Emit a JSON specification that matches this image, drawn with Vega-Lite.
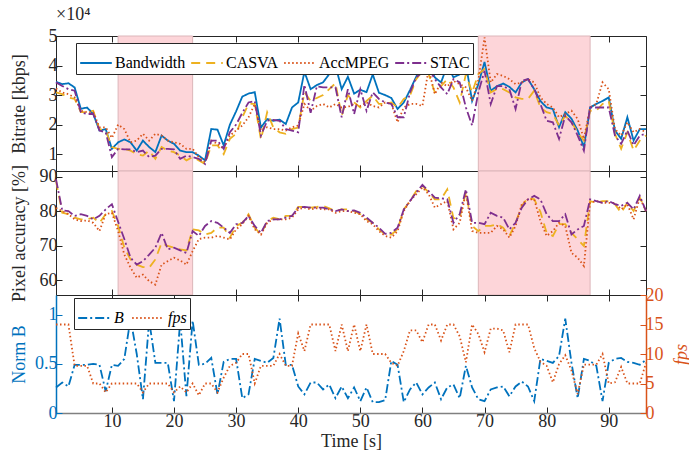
{
"$schema":"https://vega.github.io/schema/vega-lite/v6.json",
"background":"white",
"padding":{"left":9,"top":6,"right":5,"bottom":5},
"spacing":0,
"bounds":"flush",
"config":{
 "font":"Liberation Serif",
 "view":{"stroke":null},
 "axis":{"labelFont":"Liberation Serif","titleFont":"Liberation Serif","labelFontSize":18,"titleFontSize":18,"titleFontWeight":"normal","labelColor":"#262626","titleColor":"#262626","domainColor":"#262626","tickColor":"#262626","tickSize":-6,"labelPadding":5,"grid":false,"domainWidth":1,"tickWidth":1},
 "legend":{"labelFont":"Liberation Serif","labelFontSize":16,"labelColor":"#000000"}
},
"datasets":{
"zones":[{"start":11,"end":23},{"start":69,"end":87}],
"bitrate":[
{"t":1,"s":"Bandwidth","v":34500},{"t":2,"s":"Bandwidth","v":33700},{"t":3,"s":"Bandwidth","v":34000},{"t":4,"s":"Bandwidth","v":32600},{"t":5,"s":"Bandwidth","v":25300},{"t":6,"s":"Bandwidth","v":25800},{"t":7,"s":"Bandwidth","v":23600},{"t":8,"s":"Bandwidth","v":18000},{"t":9,"s":"Bandwidth","v":18500},{"t":10,"s":"Bandwidth","v":11800},
{"t":11,"s":"Bandwidth","v":14000},{"t":12,"s":"Bandwidth","v":15000},{"t":13,"s":"Bandwidth","v":14000},{"t":14,"s":"Bandwidth","v":11200},{"t":15,"s":"Bandwidth","v":14600},{"t":16,"s":"Bandwidth","v":12400},{"t":17,"s":"Bandwidth","v":10700},{"t":18,"s":"Bandwidth","v":16300},{"t":19,"s":"Bandwidth","v":14600},{"t":20,"s":"Bandwidth","v":13500},
{"t":21,"s":"Bandwidth","v":11200},{"t":22,"s":"Bandwidth","v":10700},{"t":23,"s":"Bandwidth","v":10700},{"t":24,"s":"Bandwidth","v":9500},{"t":25,"s":"Bandwidth","v":7900},{"t":26,"s":"Bandwidth","v":18500},{"t":27,"s":"Bandwidth","v":18300},{"t":28,"s":"Bandwidth","v":13000},{"t":29,"s":"Bandwidth","v":20000},{"t":30,"s":"Bandwidth","v":24500},
{"t":31,"s":"Bandwidth","v":29500},{"t":32,"s":"Bandwidth","v":30500},{"t":33,"s":"Bandwidth","v":31000},{"t":34,"s":"Bandwidth","v":19000},{"t":35,"s":"Bandwidth","v":21900},{"t":36,"s":"Bandwidth","v":21300},{"t":37,"s":"Bandwidth","v":21700},{"t":38,"s":"Bandwidth","v":20200},{"t":39,"s":"Bandwidth","v":25800},{"t":40,"s":"Bandwidth","v":27500},
{"t":41,"s":"Bandwidth","v":37900},{"t":42,"s":"Bandwidth","v":32000},{"t":43,"s":"Bandwidth","v":33400},{"t":44,"s":"Bandwidth","v":34300},{"t":45,"s":"Bandwidth","v":37100},{"t":46,"s":"Bandwidth","v":40000},{"t":47,"s":"Bandwidth","v":32000},{"t":48,"s":"Bandwidth","v":36200},{"t":49,"s":"Bandwidth","v":30500},{"t":50,"s":"Bandwidth","v":31800},
{"t":51,"s":"Bandwidth","v":31000},{"t":52,"s":"Bandwidth","v":37000},{"t":53,"s":"Bandwidth","v":30800},{"t":54,"s":"Bandwidth","v":30000},{"t":55,"s":"Bandwidth","v":29000},{"t":56,"s":"Bandwidth","v":25300},{"t":57,"s":"Bandwidth","v":27500},{"t":58,"s":"Bandwidth","v":31700},{"t":59,"s":"Bandwidth","v":36200},{"t":60,"s":"Bandwidth","v":40500},
{"t":61,"s":"Bandwidth","v":40500},{"t":62,"s":"Bandwidth","v":36000},{"t":63,"s":"Bandwidth","v":34300},{"t":64,"s":"Bandwidth","v":40000},{"t":65,"s":"Bandwidth","v":36000},{"t":66,"s":"Bandwidth","v":37000},{"t":67,"s":"Bandwidth","v":40500},{"t":68,"s":"Bandwidth","v":28000},{"t":69,"s":"Bandwidth","v":33700},{"t":70,"s":"Bandwidth","v":41200},
{"t":71,"s":"Bandwidth","v":31500},{"t":72,"s":"Bandwidth","v":33000},{"t":73,"s":"Bandwidth","v":33900},{"t":74,"s":"Bandwidth","v":32800},{"t":75,"s":"Bandwidth","v":30900},{"t":76,"s":"Bandwidth","v":34300},{"t":77,"s":"Bandwidth","v":35400},{"t":78,"s":"Bandwidth","v":32000},{"t":79,"s":"Bandwidth","v":28000},{"t":80,"s":"Bandwidth","v":25800},
{"t":81,"s":"Bandwidth","v":25300},{"t":82,"s":"Bandwidth","v":19100},{"t":83,"s":"Bandwidth","v":24200},{"t":84,"s":"Bandwidth","v":22000},{"t":85,"s":"Bandwidth","v":18000},{"t":86,"s":"Bandwidth","v":12400},{"t":87,"s":"Bandwidth","v":25800},{"t":88,"s":"Bandwidth","v":27000},{"t":89,"s":"Bandwidth","v":28000},{"t":90,"s":"Bandwidth","v":29200},
{"t":91,"s":"Bandwidth","v":18000},{"t":92,"s":"Bandwidth","v":15200},{"t":93,"s":"Bandwidth","v":22500},{"t":94,"s":"Bandwidth","v":14600},{"t":95,"s":"Bandwidth","v":18500},{"t":96,"s":"Bandwidth","v":18500},
{"t":1,"s":"CASVA","v":30900},{"t":2,"s":"CASVA","v":30300},{"t":3,"s":"CASVA","v":29200},{"t":4,"s":"CASVA","v":28700},{"t":5,"s":"CASVA","v":24200},{"t":6,"s":"CASVA","v":24200},{"t":7,"s":"CASVA","v":24700},{"t":8,"s":"CASVA","v":18500},{"t":9,"s":"CASVA","v":18000},{"t":10,"s":"CASVA","v":12400},
{"t":11,"s":"CASVA","v":11800},{"t":12,"s":"CASVA","v":11800},{"t":13,"s":"CASVA","v":11200},{"t":14,"s":"CASVA","v":10000},{"t":15,"s":"CASVA","v":9500},{"t":16,"s":"CASVA","v":11200},{"t":17,"s":"CASVA","v":8400},{"t":18,"s":"CASVA","v":12400},{"t":19,"s":"CASVA","v":11200},{"t":20,"s":"CASVA","v":10700},
{"t":21,"s":"CASVA","v":9500},{"t":22,"s":"CASVA","v":7900},{"t":23,"s":"CASVA","v":9000},{"t":24,"s":"CASVA","v":7900},{"t":25,"s":"CASVA","v":6700},{"t":26,"s":"CASVA","v":13000},{"t":27,"s":"CASVA","v":13000},{"t":28,"s":"CASVA","v":10000},{"t":29,"s":"CASVA","v":15200},{"t":30,"s":"CASVA","v":16900},
{"t":31,"s":"CASVA","v":22500},{"t":32,"s":"CASVA","v":27000},{"t":33,"s":"CASVA","v":27000},{"t":34,"s":"CASVA","v":15000},{"t":35,"s":"CASVA","v":24200},{"t":36,"s":"CASVA","v":19000},{"t":37,"s":"CASVA","v":17400},{"t":38,"s":"CASVA","v":16900},{"t":39,"s":"CASVA","v":18500},{"t":40,"s":"CASVA","v":19000},
{"t":41,"s":"CASVA","v":31000},{"t":42,"s":"CASVA","v":28000},{"t":43,"s":"CASVA","v":29000},{"t":44,"s":"CASVA","v":30000},{"t":45,"s":"CASVA","v":32000},{"t":46,"s":"CASVA","v":34000},{"t":47,"s":"CASVA","v":23000},{"t":48,"s":"CASVA","v":30000},{"t":49,"s":"CASVA","v":27500},{"t":50,"s":"CASVA","v":25800},
{"t":51,"s":"CASVA","v":28000},{"t":52,"s":"CASVA","v":29800},{"t":53,"s":"CASVA","v":27000},{"t":54,"s":"CASVA","v":27000},{"t":55,"s":"CASVA","v":27500},{"t":56,"s":"CASVA","v":25800},{"t":57,"s":"CASVA","v":28700},{"t":58,"s":"CASVA","v":29800},{"t":59,"s":"CASVA","v":35400},{"t":60,"s":"CASVA","v":38200},
{"t":61,"s":"CASVA","v":37100},{"t":62,"s":"CASVA","v":30900},{"t":63,"s":"CASVA","v":33000},{"t":64,"s":"CASVA","v":35400},{"t":65,"s":"CASVA","v":32600},{"t":66,"s":"CASVA","v":27500},{"t":67,"s":"CASVA","v":37100},{"t":68,"s":"CASVA","v":30900},{"t":69,"s":"CASVA","v":37100},{"t":70,"s":"CASVA","v":38800},
{"t":71,"s":"CASVA","v":30900},{"t":72,"s":"CASVA","v":32000},{"t":73,"s":"CASVA","v":32000},{"t":74,"s":"CASVA","v":30900},{"t":75,"s":"CASVA","v":29200},{"t":76,"s":"CASVA","v":28700},{"t":77,"s":"CASVA","v":28700},{"t":78,"s":"CASVA","v":31500},{"t":79,"s":"CASVA","v":25800},{"t":80,"s":"CASVA","v":24200},
{"t":81,"s":"CASVA","v":23600},{"t":82,"s":"CASVA","v":19700},{"t":83,"s":"CASVA","v":23000},{"t":84,"s":"CASVA","v":20800},{"t":85,"s":"CASVA","v":17400},{"t":86,"s":"CASVA","v":14600},{"t":87,"s":"CASVA","v":24700},{"t":88,"s":"CASVA","v":24700},{"t":89,"s":"CASVA","v":27000},{"t":90,"s":"CASVA","v":28000},
{"t":91,"s":"CASVA","v":16900},{"t":92,"s":"CASVA","v":11800},{"t":93,"s":"CASVA","v":17400},{"t":94,"s":"CASVA","v":11200},{"t":95,"s":"CASVA","v":14600},{"t":96,"s":"CASVA","v":16300},
{"t":1,"s":"AccMPEG","v":32200},{"t":2,"s":"AccMPEG","v":30900},{"t":3,"s":"AccMPEG","v":30300},{"t":4,"s":"AccMPEG","v":29200},{"t":5,"s":"AccMPEG","v":24700},{"t":6,"s":"AccMPEG","v":24200},{"t":7,"s":"AccMPEG","v":24200},{"t":8,"s":"AccMPEG","v":19100},{"t":9,"s":"AccMPEG","v":19100},{"t":10,"s":"AccMPEG","v":15500},
{"t":11,"s":"AccMPEG","v":20000},{"t":12,"s":"AccMPEG","v":18500},{"t":13,"s":"AccMPEG","v":14000},{"t":14,"s":"AccMPEG","v":14600},{"t":15,"s":"AccMPEG","v":16900},{"t":16,"s":"AccMPEG","v":14600},{"t":17,"s":"AccMPEG","v":16900},{"t":18,"s":"AccMPEG","v":16300},{"t":19,"s":"AccMPEG","v":14600},{"t":20,"s":"AccMPEG","v":14000},
{"t":21,"s":"AccMPEG","v":13500},{"t":22,"s":"AccMPEG","v":11800},{"t":23,"s":"AccMPEG","v":11800},{"t":24,"s":"AccMPEG","v":9000},{"t":25,"s":"AccMPEG","v":7300},{"t":26,"s":"AccMPEG","v":14600},{"t":27,"s":"AccMPEG","v":13500},{"t":28,"s":"AccMPEG","v":11800},{"t":29,"s":"AccMPEG","v":16300},{"t":30,"s":"AccMPEG","v":18000},
{"t":31,"s":"AccMPEG","v":19700},{"t":32,"s":"AccMPEG","v":22500},{"t":33,"s":"AccMPEG","v":27000},{"t":34,"s":"AccMPEG","v":18000},{"t":35,"s":"AccMPEG","v":19100},{"t":36,"s":"AccMPEG","v":18500},{"t":37,"s":"AccMPEG","v":18500},{"t":38,"s":"AccMPEG","v":18000},{"t":39,"s":"AccMPEG","v":19100},{"t":40,"s":"AccMPEG","v":19700},
{"t":41,"s":"AccMPEG","v":27000},{"t":42,"s":"AccMPEG","v":24700},{"t":43,"s":"AccMPEG","v":26300},{"t":44,"s":"AccMPEG","v":27000},{"t":45,"s":"AccMPEG","v":25800},{"t":46,"s":"AccMPEG","v":27000},{"t":47,"s":"AccMPEG","v":25800},{"t":48,"s":"AccMPEG","v":26000},{"t":49,"s":"AccMPEG","v":27000},{"t":50,"s":"AccMPEG","v":26300},
{"t":51,"s":"AccMPEG","v":27500},{"t":52,"s":"AccMPEG","v":26300},{"t":53,"s":"AccMPEG","v":25800},{"t":54,"s":"AccMPEG","v":27500},{"t":55,"s":"AccMPEG","v":27000},{"t":56,"s":"AccMPEG","v":20800},{"t":57,"s":"AccMPEG","v":25800},{"t":58,"s":"AccMPEG","v":27000},{"t":59,"s":"AccMPEG","v":27000},{"t":60,"s":"AccMPEG","v":26300},
{"t":61,"s":"AccMPEG","v":38800},{"t":62,"s":"AccMPEG","v":30300},{"t":63,"s":"AccMPEG","v":34300},{"t":64,"s":"AccMPEG","v":33000},{"t":65,"s":"AccMPEG","v":34800},{"t":66,"s":"AccMPEG","v":33700},{"t":67,"s":"AccMPEG","v":32600},{"t":68,"s":"AccMPEG","v":28100},{"t":69,"s":"AccMPEG","v":35000},{"t":70,"s":"AccMPEG","v":49500},
{"t":71,"s":"AccMPEG","v":34300},{"t":72,"s":"AccMPEG","v":37100},{"t":73,"s":"AccMPEG","v":36500},{"t":74,"s":"AccMPEG","v":35400},{"t":75,"s":"AccMPEG","v":33700},{"t":76,"s":"AccMPEG","v":34300},{"t":77,"s":"AccMPEG","v":35400},{"t":78,"s":"AccMPEG","v":34300},{"t":79,"s":"AccMPEG","v":29200},{"t":80,"s":"AccMPEG","v":27000},
{"t":81,"s":"AccMPEG","v":25800},{"t":82,"s":"AccMPEG","v":22500},{"t":83,"s":"AccMPEG","v":23600},{"t":84,"s":"AccMPEG","v":24700},{"t":85,"s":"AccMPEG","v":21900},{"t":86,"s":"AccMPEG","v":15200},{"t":87,"s":"AccMPEG","v":25800},{"t":88,"s":"AccMPEG","v":27000},{"t":89,"s":"AccMPEG","v":34300},{"t":90,"s":"AccMPEG","v":32000},
{"t":91,"s":"AccMPEG","v":18500},{"t":92,"s":"AccMPEG","v":16300},{"t":93,"s":"AccMPEG","v":20800},{"t":94,"s":"AccMPEG","v":17400},{"t":95,"s":"AccMPEG","v":18500},{"t":96,"s":"AccMPEG","v":17400},
{"t":1,"s":"STAC","v":34300},{"t":2,"s":"STAC","v":33100},{"t":3,"s":"STAC","v":32000},{"t":4,"s":"STAC","v":31500},{"t":5,"s":"STAC","v":24200},{"t":6,"s":"STAC","v":23600},{"t":7,"s":"STAC","v":23600},{"t":8,"s":"STAC","v":18000},{"t":9,"s":"STAC","v":17400},{"t":10,"s":"STAC","v":9000},
{"t":11,"s":"STAC","v":11800},{"t":12,"s":"STAC","v":11600},{"t":13,"s":"STAC","v":11600},{"t":14,"s":"STAC","v":10700},{"t":15,"s":"STAC","v":11200},{"t":16,"s":"STAC","v":9000},{"t":17,"s":"STAC","v":9500},{"t":18,"s":"STAC","v":11800},{"t":19,"s":"STAC","v":11800},{"t":20,"s":"STAC","v":11600},
{"t":21,"s":"STAC","v":8400},{"t":22,"s":"STAC","v":9500},{"t":23,"s":"STAC","v":9000},{"t":24,"s":"STAC","v":8400},{"t":25,"s":"STAC","v":6700},{"t":26,"s":"STAC","v":14600},{"t":27,"s":"STAC","v":14600},{"t":28,"s":"STAC","v":11800},{"t":29,"s":"STAC","v":17400},{"t":30,"s":"STAC","v":20000},
{"t":31,"s":"STAC","v":24000},{"t":32,"s":"STAC","v":27500},{"t":33,"s":"STAC","v":28000},{"t":34,"s":"STAC","v":16300},{"t":35,"s":"STAC","v":21300},{"t":36,"s":"STAC","v":21600},{"t":37,"s":"STAC","v":21300},{"t":38,"s":"STAC","v":18500},{"t":39,"s":"STAC","v":18000},{"t":40,"s":"STAC","v":17400},
{"t":41,"s":"STAC","v":33500},{"t":42,"s":"STAC","v":24000},{"t":43,"s":"STAC","v":33000},{"t":44,"s":"STAC","v":32600},{"t":45,"s":"STAC","v":32600},{"t":46,"s":"STAC","v":32600},{"t":47,"s":"STAC","v":22500},{"t":48,"s":"STAC","v":32000},{"t":49,"s":"STAC","v":23600},{"t":50,"s":"STAC","v":32000},
{"t":51,"s":"STAC","v":24700},{"t":52,"s":"STAC","v":30900},{"t":53,"s":"STAC","v":28700},{"t":54,"s":"STAC","v":27500},{"t":55,"s":"STAC","v":27000},{"t":56,"s":"STAC","v":22500},{"t":57,"s":"STAC","v":22500},{"t":58,"s":"STAC","v":30900},{"t":59,"s":"STAC","v":36000},{"t":60,"s":"STAC","v":37700},
{"t":61,"s":"STAC","v":39300},{"t":62,"s":"STAC","v":35400},{"t":63,"s":"STAC","v":32600},{"t":64,"s":"STAC","v":30300},{"t":65,"s":"STAC","v":35400},{"t":66,"s":"STAC","v":34300},{"t":67,"s":"STAC","v":25800},{"t":68,"s":"STAC","v":19700},{"t":69,"s":"STAC","v":30900},{"t":70,"s":"STAC","v":38200},
{"t":71,"s":"STAC","v":27000},{"t":72,"s":"STAC","v":33000},{"t":73,"s":"STAC","v":33000},{"t":74,"s":"STAC","v":32000},{"t":75,"s":"STAC","v":25300},{"t":76,"s":"STAC","v":34800},{"t":77,"s":"STAC","v":35400},{"t":78,"s":"STAC","v":32000},{"t":79,"s":"STAC","v":27000},{"t":80,"s":"STAC","v":21300},
{"t":81,"s":"STAC","v":20800},{"t":82,"s":"STAC","v":15200},{"t":83,"s":"STAC","v":23000},{"t":84,"s":"STAC","v":20800},{"t":85,"s":"STAC","v":16300},{"t":86,"s":"STAC","v":11200},{"t":87,"s":"STAC","v":25800},{"t":88,"s":"STAC","v":25800},{"t":89,"s":"STAC","v":25800},{"t":90,"s":"STAC","v":25800},
{"t":91,"s":"STAC","v":16300},{"t":92,"s":"STAC","v":13500},{"t":93,"s":"STAC","v":18000},{"t":94,"s":"STAC","v":13000},{"t":95,"s":"STAC","v":16300},{"t":96,"s":"STAC","v":16900}
],
"acc":[
{"t":1,"s":"CASVA","v":88.8},{"t":2,"s":"CASVA","v":79.6},{"t":3,"s":"CASVA","v":79.2},{"t":4,"s":"CASVA","v":78.2},{"t":5,"s":"CASVA","v":77.7},{"t":6,"s":"CASVA","v":77.7},{"t":7,"s":"CASVA","v":78.2},{"t":8,"s":"CASVA","v":76.7},{"t":9,"s":"CASVA","v":79.2},{"t":10,"s":"CASVA","v":80.1},
{"t":11,"s":"CASVA","v":75.8},{"t":12,"s":"CASVA","v":69.5},{"t":13,"s":"CASVA","v":66.1},{"t":14,"s":"CASVA","v":64.6},{"t":15,"s":"CASVA","v":63.9},{"t":16,"s":"CASVA","v":63.7},{"t":17,"s":"CASVA","v":66.1},{"t":18,"s":"CASVA","v":70.9},{"t":19,"s":"CASVA","v":70.0},{"t":20,"s":"CASVA","v":69.5},
{"t":21,"s":"CASVA","v":69.0},{"t":22,"s":"CASVA","v":68.7},{"t":23,"s":"CASVA","v":74.8},{"t":24,"s":"CASVA","v":74.5},{"t":25,"s":"CASVA","v":73.3},{"t":26,"s":"CASVA","v":73.8},{"t":27,"s":"CASVA","v":75.3},{"t":28,"s":"CASVA","v":75.3},{"t":29,"s":"CASVA","v":72.4},{"t":30,"s":"CASVA","v":75.8},
{"t":31,"s":"CASVA","v":76.7},{"t":32,"s":"CASVA","v":79.2},{"t":33,"s":"CASVA","v":75.3},{"t":34,"s":"CASVA","v":73.3},{"t":35,"s":"CASVA","v":77.2},{"t":36,"s":"CASVA","v":78.2},{"t":37,"s":"CASVA","v":77.7},{"t":38,"s":"CASVA","v":78.7},{"t":39,"s":"CASVA","v":78.7},{"t":40,"s":"CASVA","v":81.3},
{"t":41,"s":"CASVA","v":81.3},{"t":42,"s":"CASVA","v":81.1},{"t":43,"s":"CASVA","v":81.3},{"t":44,"s":"CASVA","v":81.6},{"t":45,"s":"CASVA","v":80.9},{"t":46,"s":"CASVA","v":80.1},{"t":47,"s":"CASVA","v":80.6},{"t":48,"s":"CASVA","v":80.6},{"t":49,"s":"CASVA","v":80.1},{"t":50,"s":"CASVA","v":79.2},
{"t":51,"s":"CASVA","v":77.7},{"t":52,"s":"CASVA","v":76.7},{"t":53,"s":"CASVA","v":74.8},{"t":54,"s":"CASVA","v":73.3},{"t":55,"s":"CASVA","v":73.3},{"t":56,"s":"CASVA","v":74.8},{"t":57,"s":"CASVA","v":80.6},{"t":58,"s":"CASVA","v":83.0},{"t":59,"s":"CASVA","v":85.9},{"t":60,"s":"CASVA","v":87.4},
{"t":61,"s":"CASVA","v":85.5},{"t":62,"s":"CASVA","v":83.5},{"t":63,"s":"CASVA","v":83.5},{"t":64,"s":"CASVA","v":86.4},{"t":65,"s":"CASVA","v":78.0},{"t":66,"s":"CASVA","v":78.2},{"t":67,"s":"CASVA","v":85.5},{"t":68,"s":"CASVA","v":75.8},{"t":69,"s":"CASVA","v":74.3},{"t":70,"s":"CASVA","v":75.8},
{"t":71,"s":"CASVA","v":75.8},{"t":72,"s":"CASVA","v":76.3},{"t":73,"s":"CASVA","v":75.3},{"t":74,"s":"CASVA","v":72.9},{"t":75,"s":"CASVA","v":76.7},{"t":76,"s":"CASVA","v":81.6},{"t":77,"s":"CASVA","v":84.0},{"t":78,"s":"CASVA","v":83.5},{"t":79,"s":"CASVA","v":79.9},{"t":80,"s":"CASVA","v":73.8},
{"t":81,"s":"CASVA","v":72.9},{"t":82,"s":"CASVA","v":76.3},{"t":83,"s":"CASVA","v":76.3},{"t":84,"s":"CASVA","v":73.8},{"t":85,"s":"CASVA","v":71.9},{"t":86,"s":"CASVA","v":70.0},{"t":87,"s":"CASVA","v":83.0},{"t":88,"s":"CASVA","v":82.5},{"t":89,"s":"CASVA","v":83.0},{"t":90,"s":"CASVA","v":83.0},
{"t":91,"s":"CASVA","v":82.1},{"t":92,"s":"CASVA","v":79.6},{"t":93,"s":"CASVA","v":82.5},{"t":94,"s":"CASVA","v":80.1},{"t":95,"s":"CASVA","v":84.0},{"t":96,"s":"CASVA","v":80.1},
{"t":1,"s":"AccMPEG","v":81.0},{"t":2,"s":"AccMPEG","v":80.1},{"t":3,"s":"AccMPEG","v":79.2},{"t":4,"s":"AccMPEG","v":77.7},{"t":5,"s":"AccMPEG","v":77.2},{"t":6,"s":"AccMPEG","v":77.4},{"t":7,"s":"AccMPEG","v":76.7},{"t":8,"s":"AccMPEG","v":74.3},{"t":9,"s":"AccMPEG","v":79.2},{"t":10,"s":"AccMPEG","v":79.6},
{"t":11,"s":"AccMPEG","v":74.3},{"t":12,"s":"AccMPEG","v":67.5},{"t":13,"s":"AccMPEG","v":63.7},{"t":14,"s":"AccMPEG","v":60.8},{"t":15,"s":"AccMPEG","v":61.7},{"t":16,"s":"AccMPEG","v":59.8},{"t":17,"s":"AccMPEG","v":58.8},{"t":18,"s":"AccMPEG","v":64.6},{"t":19,"s":"AccMPEG","v":65.6},{"t":20,"s":"AccMPEG","v":66.6},
{"t":21,"s":"AccMPEG","v":65.8},{"t":22,"s":"AccMPEG","v":64.6},{"t":23,"s":"AccMPEG","v":68.5},{"t":24,"s":"AccMPEG","v":72.0},{"t":25,"s":"AccMPEG","v":72.4},{"t":26,"s":"AccMPEG","v":72.4},{"t":27,"s":"AccMPEG","v":72.9},{"t":28,"s":"AccMPEG","v":72.4},{"t":29,"s":"AccMPEG","v":71.9},{"t":30,"s":"AccMPEG","v":74.8},
{"t":31,"s":"AccMPEG","v":76.3},{"t":32,"s":"AccMPEG","v":78.7},{"t":33,"s":"AccMPEG","v":74.8},{"t":34,"s":"AccMPEG","v":73.3},{"t":35,"s":"AccMPEG","v":76.7},{"t":36,"s":"AccMPEG","v":77.7},{"t":37,"s":"AccMPEG","v":77.7},{"t":38,"s":"AccMPEG","v":77.7},{"t":39,"s":"AccMPEG","v":78.2},{"t":40,"s":"AccMPEG","v":80.6},
{"t":41,"s":"AccMPEG","v":81.1},{"t":42,"s":"AccMPEG","v":80.6},{"t":43,"s":"AccMPEG","v":80.9},{"t":44,"s":"AccMPEG","v":80.6},{"t":45,"s":"AccMPEG","v":80.6},{"t":46,"s":"AccMPEG","v":79.6},{"t":47,"s":"AccMPEG","v":80.1},{"t":48,"s":"AccMPEG","v":80.1},{"t":49,"s":"AccMPEG","v":79.6},{"t":50,"s":"AccMPEG","v":79.2},
{"t":51,"s":"AccMPEG","v":77.2},{"t":52,"s":"AccMPEG","v":76.3},{"t":53,"s":"AccMPEG","v":74.3},{"t":54,"s":"AccMPEG","v":72.9},{"t":55,"s":"AccMPEG","v":72.4},{"t":56,"s":"AccMPEG","v":74.3},{"t":57,"s":"AccMPEG","v":80.1},{"t":58,"s":"AccMPEG","v":83.0},{"t":59,"s":"AccMPEG","v":85.0},{"t":60,"s":"AccMPEG","v":86.9},
{"t":61,"s":"AccMPEG","v":85.0},{"t":62,"s":"AccMPEG","v":81.1},{"t":63,"s":"AccMPEG","v":82.1},{"t":64,"s":"AccMPEG","v":83.0},{"t":65,"s":"AccMPEG","v":74.8},{"t":66,"s":"AccMPEG","v":76.7},{"t":67,"s":"AccMPEG","v":85.5},{"t":68,"s":"AccMPEG","v":74.3},{"t":69,"s":"AccMPEG","v":73.8},{"t":70,"s":"AccMPEG","v":73.8},
{"t":71,"s":"AccMPEG","v":73.8},{"t":72,"s":"AccMPEG","v":75.8},{"t":73,"s":"AccMPEG","v":74.8},{"t":74,"s":"AccMPEG","v":72.4},{"t":75,"s":"AccMPEG","v":75.8},{"t":76,"s":"AccMPEG","v":82.1},{"t":77,"s":"AccMPEG","v":83.5},{"t":78,"s":"AccMPEG","v":83.5},{"t":79,"s":"AccMPEG","v":77.2},{"t":80,"s":"AccMPEG","v":72.9},
{"t":81,"s":"AccMPEG","v":74.3},{"t":82,"s":"AccMPEG","v":76.7},{"t":83,"s":"AccMPEG","v":75.8},{"t":84,"s":"AccMPEG","v":68.0},{"t":85,"s":"AccMPEG","v":66.6},{"t":86,"s":"AccMPEG","v":64.2},{"t":87,"s":"AccMPEG","v":82.5},{"t":88,"s":"AccMPEG","v":83.0},{"t":89,"s":"AccMPEG","v":82.5},{"t":90,"s":"AccMPEG","v":82.5},
{"t":91,"s":"AccMPEG","v":82.5},{"t":92,"s":"AccMPEG","v":80.6},{"t":93,"s":"AccMPEG","v":82.1},{"t":94,"s":"AccMPEG","v":77.7},{"t":95,"s":"AccMPEG","v":84.0},{"t":96,"s":"AccMPEG","v":80.1},
{"t":1,"s":"STAC","v":89.3},{"t":2,"s":"STAC","v":80.3},{"t":3,"s":"STAC","v":80.1},{"t":4,"s":"STAC","v":78.7},{"t":5,"s":"STAC","v":79.2},{"t":6,"s":"STAC","v":78.7},{"t":7,"s":"STAC","v":77.7},{"t":8,"s":"STAC","v":78.7},{"t":9,"s":"STAC","v":80.6},{"t":10,"s":"STAC","v":82.1},
{"t":11,"s":"STAC","v":77.0},{"t":12,"s":"STAC","v":72.0},{"t":13,"s":"STAC","v":66.6},{"t":14,"s":"STAC","v":64.6},{"t":15,"s":"STAC","v":65.6},{"t":16,"s":"STAC","v":67.5},{"t":17,"s":"STAC","v":69.5},{"t":18,"s":"STAC","v":73.8},{"t":19,"s":"STAC","v":69.0},{"t":20,"s":"STAC","v":69.5},
{"t":21,"s":"STAC","v":68.7},{"t":22,"s":"STAC","v":68.0},{"t":23,"s":"STAC","v":74.3},{"t":24,"s":"STAC","v":72.9},{"t":25,"s":"STAC","v":75.8},{"t":26,"s":"STAC","v":77.2},{"t":27,"s":"STAC","v":76.7},{"t":28,"s":"STAC","v":75.3},{"t":29,"s":"STAC","v":73.8},{"t":30,"s":"STAC","v":76.3},
{"t":31,"s":"STAC","v":76.7},{"t":32,"s":"STAC","v":78.7},{"t":33,"s":"STAC","v":75.8},{"t":34,"s":"STAC","v":73.8},{"t":35,"s":"STAC","v":77.2},{"t":36,"s":"STAC","v":77.7},{"t":37,"s":"STAC","v":77.7},{"t":38,"s":"STAC","v":78.2},{"t":39,"s":"STAC","v":78.7},{"t":40,"s":"STAC","v":81.1},
{"t":41,"s":"STAC","v":81.3},{"t":42,"s":"STAC","v":81.1},{"t":43,"s":"STAC","v":81.1},{"t":44,"s":"STAC","v":81.1},{"t":45,"s":"STAC","v":80.6},{"t":46,"s":"STAC","v":80.1},{"t":47,"s":"STAC","v":80.6},{"t":48,"s":"STAC","v":80.1},{"t":49,"s":"STAC","v":80.3},{"t":50,"s":"STAC","v":79.6},
{"t":51,"s":"STAC","v":78.2},{"t":52,"s":"STAC","v":76.7},{"t":53,"s":"STAC","v":75.3},{"t":54,"s":"STAC","v":73.5},{"t":55,"s":"STAC","v":73.8},{"t":56,"s":"STAC","v":75.3},{"t":57,"s":"STAC","v":80.6},{"t":58,"s":"STAC","v":83.0},{"t":59,"s":"STAC","v":85.5},{"t":60,"s":"STAC","v":87.7},
{"t":61,"s":"STAC","v":85.9},{"t":62,"s":"STAC","v":84.0},{"t":63,"s":"STAC","v":83.8},{"t":64,"s":"STAC","v":83.5},{"t":65,"s":"STAC","v":76.7},{"t":66,"s":"STAC","v":79.2},{"t":67,"s":"STAC","v":86.4},{"t":68,"s":"STAC","v":76.7},{"t":69,"s":"STAC","v":76.7},{"t":70,"s":"STAC","v":76.3},
{"t":71,"s":"STAC","v":79.6},{"t":72,"s":"STAC","v":78.7},{"t":73,"s":"STAC","v":78.2},{"t":74,"s":"STAC","v":74.8},{"t":75,"s":"STAC","v":76.7},{"t":76,"s":"STAC","v":81.1},{"t":77,"s":"STAC","v":83.5},{"t":78,"s":"STAC","v":84.5},{"t":79,"s":"STAC","v":83.5},{"t":80,"s":"STAC","v":79.2},
{"t":81,"s":"STAC","v":77.2},{"t":82,"s":"STAC","v":77.2},{"t":83,"s":"STAC","v":79.2},{"t":84,"s":"STAC","v":73.3},{"t":85,"s":"STAC","v":74.8},{"t":86,"s":"STAC","v":75.8},{"t":87,"s":"STAC","v":83.5},{"t":88,"s":"STAC","v":83.0},{"t":89,"s":"STAC","v":82.5},{"t":90,"s":"STAC","v":83.0},
{"t":91,"s":"STAC","v":82.1},{"t":92,"s":"STAC","v":81.6},{"t":93,"s":"STAC","v":82.5},{"t":94,"s":"STAC","v":80.6},{"t":95,"s":"STAC","v":84.5},{"t":96,"s":"STAC","v":80.1}
],
"ctrl":[
{"t":1,"s":"B","v":0.26},{"t":2,"s":"B","v":0.31},{"t":3,"s":"B","v":0.27},{"t":4,"s":"B","v":0.49},{"t":5,"s":"B","v":0.49},{"t":6,"s":"B","v":0.49},{"t":7,"s":"B","v":0.5},{"t":8,"s":"B","v":0.49},{"t":9,"s":"B","v":0.22},{"t":10,"s":"B","v":0.49},
{"t":11,"s":"B","v":0.48},{"t":12,"s":"B","v":0.55},{"t":13,"s":"B","v":0.96},{"t":14,"s":"B","v":0.6},{"t":15,"s":"B","v":0.14},{"t":16,"s":"B","v":0.94},{"t":17,"s":"B","v":0.51},{"t":18,"s":"B","v":0.51},{"t":19,"s":"B","v":0.51},{"t":20,"s":"B","v":0.12},
{"t":21,"s":"B","v":0.94},{"t":22,"s":"B","v":0.17},{"t":23,"s":"B","v":0.94},{"t":24,"s":"B","v":0.49},{"t":25,"s":"B","v":0.5},{"t":26,"s":"B","v":0.56},{"t":27,"s":"B","v":0.19},{"t":28,"s":"B","v":0.52},{"t":29,"s":"B","v":0.55},{"t":30,"s":"B","v":0.55},
{"t":31,"s":"B","v":0.15},{"t":32,"s":"B","v":0.19},{"t":33,"s":"B","v":0.55},{"t":34,"s":"B","v":0.53},{"t":35,"s":"B","v":0.51},{"t":36,"s":"B","v":0.56},{"t":37,"s":"B","v":0.96},{"t":38,"s":"B","v":0.49},{"t":39,"s":"B","v":0.49},{"t":40,"s":"B","v":0.27},
{"t":41,"s":"B","v":0.19},{"t":42,"s":"B","v":0.31},{"t":43,"s":"B","v":0.31},{"t":44,"s":"B","v":0.24},{"t":45,"s":"B","v":0.29},{"t":46,"s":"B","v":0.15},{"t":47,"s":"B","v":0.27},{"t":48,"s":"B","v":0.15},{"t":49,"s":"B","v":0.26},{"t":50,"s":"B","v":0.12},
{"t":51,"s":"B","v":0.26},{"t":52,"s":"B","v":0.11},{"t":53,"s":"B","v":0.11},{"t":54,"s":"B","v":0.13},{"t":55,"s":"B","v":0.53},{"t":56,"s":"B","v":0.49},{"t":57,"s":"B","v":0.11},{"t":58,"s":"B","v":0.24},{"t":59,"s":"B","v":0.31},{"t":60,"s":"B","v":0.19},
{"t":61,"s":"B","v":0.26},{"t":62,"s":"B","v":0.31},{"t":63,"s":"B","v":0.14},{"t":64,"s":"B","v":0.26},{"t":65,"s":"B","v":0.29},{"t":66,"s":"B","v":0.15},{"t":67,"s":"B","v":0.48},{"t":68,"s":"B","v":0.26},{"t":69,"s":"B","v":0.14},{"t":70,"s":"B","v":0.12},
{"t":71,"s":"B","v":0.24},{"t":72,"s":"B","v":0.26},{"t":73,"s":"B","v":0.27},{"t":74,"s":"B","v":0.17},{"t":75,"s":"B","v":0.27},{"t":76,"s":"B","v":0.32},{"t":77,"s":"B","v":0.27},{"t":78,"s":"B","v":0.12},{"t":79,"s":"B","v":0.55},{"t":80,"s":"B","v":0.53},
{"t":81,"s":"B","v":0.51},{"t":82,"s":"B","v":0.58},{"t":83,"s":"B","v":0.96},{"t":84,"s":"B","v":0.51},{"t":85,"s":"B","v":0.15},{"t":86,"s":"B","v":0.55},{"t":87,"s":"B","v":0.53},{"t":88,"s":"B","v":0.48},{"t":89,"s":"B","v":0.12},{"t":90,"s":"B","v":0.51},
{"t":91,"s":"B","v":0.55},{"t":92,"s":"B","v":0.56},{"t":93,"s":"B","v":0.52},{"t":94,"s":"B","v":0.51},{"t":95,"s":"B","v":0.49},{"t":96,"s":"B","v":0.54},
{"t":1,"s":"fps","v":15},{"t":2,"s":"fps","v":15},{"t":3,"s":"fps","v":15},{"t":4,"s":"fps","v":8},{"t":5,"s":"fps","v":8},{"t":6,"s":"fps","v":8},{"t":7,"s":"fps","v":5},{"t":8,"s":"fps","v":5},{"t":9,"s":"fps","v":3.5},{"t":10,"s":"fps","v":5},
{"t":11,"s":"fps","v":5},{"t":12,"s":"fps","v":5},{"t":13,"s":"fps","v":5},{"t":14,"s":"fps","v":5},{"t":15,"s":"fps","v":3.5},{"t":16,"s":"fps","v":5},{"t":17,"s":"fps","v":5},{"t":18,"s":"fps","v":5},{"t":19,"s":"fps","v":5},{"t":20,"s":"fps","v":3.5},
{"t":21,"s":"fps","v":4.5},{"t":22,"s":"fps","v":3.5},{"t":23,"s":"fps","v":5},{"t":24,"s":"fps","v":3},{"t":25,"s":"fps","v":5},{"t":26,"s":"fps","v":5},{"t":27,"s":"fps","v":3.5},{"t":28,"s":"fps","v":6},{"t":29,"s":"fps","v":8},{"t":30,"s":"fps","v":8.5},
{"t":31,"s":"fps","v":10},{"t":32,"s":"fps","v":10},{"t":33,"s":"fps","v":5},{"t":34,"s":"fps","v":8},{"t":35,"s":"fps","v":8},{"t":36,"s":"fps","v":8},{"t":37,"s":"fps","v":10},{"t":38,"s":"fps","v":8},{"t":39,"s":"fps","v":8},{"t":40,"s":"fps","v":13.5},
{"t":41,"s":"fps","v":10.5},{"t":42,"s":"fps","v":15},{"t":43,"s":"fps","v":15},{"t":44,"s":"fps","v":15},{"t":45,"s":"fps","v":15},{"t":46,"s":"fps","v":10.5},{"t":47,"s":"fps","v":15},{"t":48,"s":"fps","v":10.5},{"t":49,"s":"fps","v":15},{"t":50,"s":"fps","v":10.5},
{"t":51,"s":"fps","v":15},{"t":52,"s":"fps","v":10},{"t":53,"s":"fps","v":10},{"t":54,"s":"fps","v":10},{"t":55,"s":"fps","v":8.5},{"t":56,"s":"fps","v":8},{"t":57,"s":"fps","v":10.5},{"t":58,"s":"fps","v":14},{"t":59,"s":"fps","v":14},{"t":60,"s":"fps","v":12},
{"t":61,"s":"fps","v":15},{"t":62,"s":"fps","v":15},{"t":63,"s":"fps","v":12.3},{"t":64,"s":"fps","v":15},{"t":65,"s":"fps","v":15},{"t":66,"s":"fps","v":13},{"t":67,"s":"fps","v":8.6},{"t":68,"s":"fps","v":15},{"t":69,"s":"fps","v":13.4},{"t":70,"s":"fps","v":10.3},
{"t":71,"s":"fps","v":14.3},{"t":72,"s":"fps","v":14.3},{"t":73,"s":"fps","v":14},{"t":74,"s":"fps","v":10.3},{"t":75,"s":"fps","v":15},{"t":76,"s":"fps","v":15},{"t":77,"s":"fps","v":15},{"t":78,"s":"fps","v":11},{"t":79,"s":"fps","v":8.7},{"t":80,"s":"fps","v":8},
{"t":81,"s":"fps","v":5.2},{"t":82,"s":"fps","v":8.3},{"t":83,"s":"fps","v":9.8},{"t":84,"s":"fps","v":7.2},{"t":85,"s":"fps","v":3.2},{"t":86,"s":"fps","v":8.2},{"t":87,"s":"fps","v":8.2},{"t":88,"s":"fps","v":8.2},{"t":89,"s":"fps","v":10},{"t":90,"s":"fps","v":5},
{"t":91,"s":"fps","v":5.2},{"t":92,"s":"fps","v":7.8},{"t":93,"s":"fps","v":5},{"t":94,"s":"fps","v":5},{"t":95,"s":"fps","v":5},{"t":96,"s":"fps","v":8.5}
]
},
"vconcat":[
{
 "width":590,"height":135,
 "title":{"text":"×10⁴","anchor":"start","frame":"group","font":"Liberation Serif","fontSize":18,"fontWeight":"normal","color":"#262626","offset":3},
 "layer":[
  {"data":{"name":"zones"},"mark":{"type":"rect","fill":"#fdd5d9","stroke":"#dcb6ba","strokeWidth":1},
   "encoding":{"x":{"field":"start","type":"quantitative","scale":{"domain":[1,96],"nice":false,"zero":false},"axis":{"orient":"top","values":[10,20,30,40,50,60,70,80,90],"labels":false,"title":null}},"x2":{"field":"end"}}},
  {"data":{"name":"bitrate"},"transform":[{"filter":"datum.s == 'Bandwidth' || datum.s == 'CASVA'"}],"mark":{"type":"line","strokeWidth":1.8},
   "encoding":{
    "x":{"field":"t","type":"quantitative","axis":{"orient":"bottom","values":[10,20,30,40,50,60,70,80,90],"labels":false,"title":null}},
    "y":{"field":"v","type":"quantitative","scale":{"domain":[4300,50000],"nice":false,"zero":false},"axis":{"orient":"left","values":[10000,20000,30000,40000,50000],"labelExpr":"format(datum.value/10000,'d')","title":"Bitrate [kbps]","titleX":-37,"titleBaseline":"middle"}},
    "color":{"field":"s","type":"nominal","scale":{"domain":["Bandwidth","CASVA","AccMPEG","STAC"],"range":["#0072BD","#EDB120","#D95319","#7E2F8E"]},"legend":{"title":null,"orient":"none","legendX":20,"legendY":7,"direction":"horizontal","symbolType":"stroke","symbolSize":1000,"symbolStrokeWidth":2,"strokeColor":"#262626","fillColor":"white","padding":3,"columnPadding":1,"labelOffset":2}},
    "strokeDash":{"field":"s","type":"nominal","scale":{"domain":["Bandwidth","CASVA","AccMPEG","STAC"],"range":[[1,0],[9,6],[1.5,2.5],[9,3,2,3]]},"legend":{"title":null,"orient":"none","legendX":20,"legendY":7,"direction":"horizontal","symbolType":"stroke","symbolSize":1000,"symbolStrokeWidth":2,"strokeColor":"#262626","fillColor":"white","padding":3,"columnPadding":1,"labelOffset":2}}
   }},
  {"data":{"name":"bitrate"},"transform":[{"filter":"datum.s == 'AccMPEG' || datum.s == 'STAC'"}],"mark":{"type":"line","strokeWidth":1.8},
   "encoding":{
    "x":{"field":"t","type":"quantitative","axis":null},
    "y":{"field":"v","type":"quantitative","axis":{"orient":"right","values":[10000,20000,30000,40000,50000],"labels":false,"title":null}},
    "color":{"field":"s","type":"nominal"},
    "strokeDash":{"field":"s","type":"nominal"}
   }}
 ],
 "resolve":{"axis":{"x":"independent","y":"independent"}}
},
{
 "width":590,"height":124,
 "layer":[
  {"data":{"name":"zones"},"mark":{"type":"rect","fill":"#fdd5d9","stroke":"#dcb6ba","strokeWidth":1},
   "encoding":{"x":{"field":"start","type":"quantitative","scale":{"domain":[1,96],"nice":false,"zero":false},"axis":{"orient":"top","values":[10,20,30,40,50,60,70,80,90],"labels":false,"title":null}},"x2":{"field":"end"}}},
  {"data":{"name":"acc"},"transform":[{"filter":"datum.s == 'CASVA'"}],"mark":{"type":"line","strokeWidth":1.8},
   "encoding":{
    "x":{"field":"t","type":"quantitative","axis":{"orient":"bottom","values":[10,20,30,40,50,60,70,80,90],"labels":false,"title":null}},
    "y":{"field":"v","type":"quantitative","scale":{"domain":[55.8,91.7],"nice":false,"zero":false},"axis":{"orient":"left","values":[60,70,80,90],"title":"Pixel accuracy [%]","titleX":-37,"titleBaseline":"middle"}},
    "color":{"field":"s","type":"nominal","scale":{"domain":["CASVA","AccMPEG","STAC"],"range":["#EDB120","#D95319","#7E2F8E"]},"legend":null},
    "strokeDash":{"field":"s","type":"nominal","scale":{"domain":["CASVA","AccMPEG","STAC"],"range":[[9,6],[1.5,2.5],[9,3,2,3]]},"legend":null}
   }},
  {"data":{"name":"acc"},"transform":[{"filter":"datum.s != 'CASVA'"}],"mark":{"type":"line","strokeWidth":1.8},
   "encoding":{
    "x":{"field":"t","type":"quantitative","axis":null},
    "y":{"field":"v","type":"quantitative","axis":{"orient":"right","values":[60,70,80,90],"labels":false,"title":null}},
    "color":{"field":"s","type":"nominal","legend":null},
    "strokeDash":{"field":"s","type":"nominal","legend":null}
   }}
 ],
 "resolve":{"axis":{"x":"independent","y":"independent"}}
},
{
 "width":590,"height":118,
 "layer":[
  {"data":{"name":"ctrl"},"transform":[{"filter":"datum.s == 'B'"}],"mark":{"type":"line","strokeWidth":1.8},
   "encoding":{
    "x":{"field":"t","type":"quantitative","scale":{"domain":[1,96],"nice":false,"zero":false},"axis":{"orient":"bottom","values":[10,20,30,40,50,60,70,80,90],"title":"Time [s]","titlePadding":2,"domainColor":"#808080","domainWidth":1.5}},
    "y":{"field":"v","type":"quantitative","scale":{"domain":[0,1.2],"nice":false},"axis":{"orient":"left","values":[0,0.5,1],"format":"~g","title":"Norm B","titleX":-37,"titleBaseline":"middle","labelColor":"#0072BD","titleColor":"#0072BD","domainColor":"#0072BD","tickColor":"#0072BD","domainWidth":1.5}},
    "color":{"field":"s","type":"nominal","scale":{"domain":["B","fps"],"range":["#0072BD","#D95319"]},"legend":{"title":null,"orient":"none","legendX":18,"legendY":3,"direction":"horizontal","symbolType":"stroke","symbolSize":1000,"symbolStrokeWidth":2,"strokeColor":"#262626","fillColor":"white","padding":3,"columnPadding":4,"labelOffset":3,"labelFontStyle":"italic"}},
    "strokeDash":{"field":"s","type":"nominal","scale":{"domain":["B","fps"],"range":[[9,3,2,3],[1.5,2.5]]},"legend":{"title":null,"orient":"none","legendX":18,"legendY":3,"direction":"horizontal","symbolType":"stroke","symbolSize":1000,"symbolStrokeWidth":2,"strokeColor":"#262626","fillColor":"white","padding":3,"columnPadding":4,"labelOffset":3,"labelFontStyle":"italic"}}
   }},
  {"data":{"name":"ctrl"},"transform":[{"filter":"datum.s == 'fps'"}],"mark":{"type":"line","strokeWidth":1.8},
   "encoding":{
    "x":{"field":"t","type":"quantitative","axis":{"orient":"top","values":[10,20,30,40,50,60,70,80,90],"labels":false,"title":null}},
    "y":{"field":"v","type":"quantitative","scale":{"domain":[0,20],"nice":false},"axis":{"orient":"right","values":[0,5,10,15,20],"title":"fps","titleFontStyle":"italic","titleAngle":-90,"titleX":35,"titleBaseline":"middle","labelColor":"#D95319","titleColor":"#D95319","domainColor":"#D95319","tickColor":"#D95319","domainWidth":1.5}},
    "color":{"field":"s","type":"nominal"},
    "strokeDash":{"field":"s","type":"nominal"}
   }}
 ],
 "resolve":{"scale":{"y":"independent"},"axis":{"x":"independent","y":"independent"}}
}
],
"resolve":{"scale":{"color":"independent","strokeDash":"independent"}}
}
